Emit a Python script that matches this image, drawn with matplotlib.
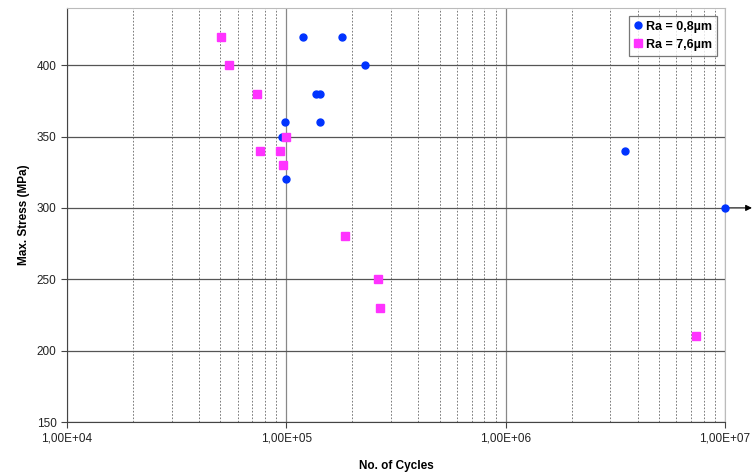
import matplotlib
matplotlib.use("Agg")
import matplotlib.pyplot as plt
from matplotlib.ticker import FixedLocator, LogLocator, FuncFormatter

plt.rcParams['font.family'] = ['Liberation Sans', 'DejaVu Sans']

# Ra = 0,8um
cycles1 = [1.19e5, 1.79e5, 2.29e5, 1.36e5, 1.42e5, 0.99e5, 1.43e5, 0.96e5, 1.0e5, 3.5e6, 1.0e7]
stress1 = [420, 420, 400, 380, 380, 360, 360, 350, 320, 340, 300]
# Ra = 7,6um
cycles2 = [5.03e4, 5.5e4, 7.35e4, 1.0e5, 7.6e4, 9.35e4, 9.7e4, 1.85e5, 2.63e5, 2.68e5, 7.4e6]
stress2 = [420, 400, 380, 350, 340, 340, 330, 280, 250, 230, 210]

fig = plt.figure(figsize=(7.54, 4.72), dpi=100)
ax = fig.add_axes([0.0889, 0.1059, 0.8726, 0.877])

ax.set_xscale('log')
ax.set_xlim(1e4, 1e7)
ax.set_ylim(150, 440)

ax.xaxis.set_major_locator(FixedLocator([1e4, 1e5, 1e6, 1e7]))
ax.xaxis.set_minor_locator(LogLocator(base=10, subs=range(2, 10)))
ax.xaxis.set_major_formatter(FuncFormatter(lambda v, p: ('%.2E' % v).replace('.', ',')))
ax.xaxis.set_minor_formatter(FuncFormatter(lambda v, p: ''))
ax.set_yticks([150, 200, 250, 300, 350, 400])

ax.grid(True, which='major', axis='y', color='#555555', linewidth=0.9)
ax.grid(True, which='major', axis='x', color='#888888', linewidth=0.9)
ax.grid(True, which='minor', axis='x', color='#666666', linestyle=(0, (2, 2)), linewidth=0.6)
ax.set_axisbelow(True)

ax.plot(cycles1, stress1, 'o', color='#0033ff', markersize=5, label='Ra = 0,8µm', clip_on=False, zorder=3)
ax.plot(cycles2, stress2, 's', color='#ff33ff', markersize=5.5, label='Ra = 7,6µm', clip_on=False, zorder=3)

# runout arrow
ax.annotate('', xy=(1.041, 300), xytext=(1.0, 300),
            xycoords=('axes fraction', 'data'), textcoords=('axes fraction', 'data'),
            arrowprops=dict(arrowstyle='-|>', color='black', lw=0.8, mutation_scale=9,
                            shrinkA=0, shrinkB=0),
            annotation_clip=False, zorder=2)

for s in ['top', 'right']:
    ax.spines[s].set_color('#bbbbbb')
for s in ['left', 'bottom']:
    ax.spines[s].set_color('#444444')

ax.tick_params(axis='both', which='major', labelsize=8.5, direction='out', length=4,
               color='#444444', labelcolor='#222222')
ax.tick_params(axis='x', which='minor', length=0)
ax.tick_params(axis='x', which='major', pad=3.5)

ax.set_xlabel('No. of Cycles', fontsize=8.5, fontweight='bold', labelpad=11)
ax.set_ylabel('Max. Stress (MPa)', fontsize=8.5, fontweight='bold', labelpad=5)

leg = ax.legend(loc='upper right', prop={'weight': 'bold', 'size': 9},
                frameon=True, fancybox=False, handlelength=0.6, handletextpad=0.4,
                borderpad=0.4, labelspacing=0.5, borderaxespad=0.6)
leg.get_frame().set_edgecolor('#555555')
leg.get_frame().set_linewidth(0.9)

fig.savefig('out.png', dpi=100)
